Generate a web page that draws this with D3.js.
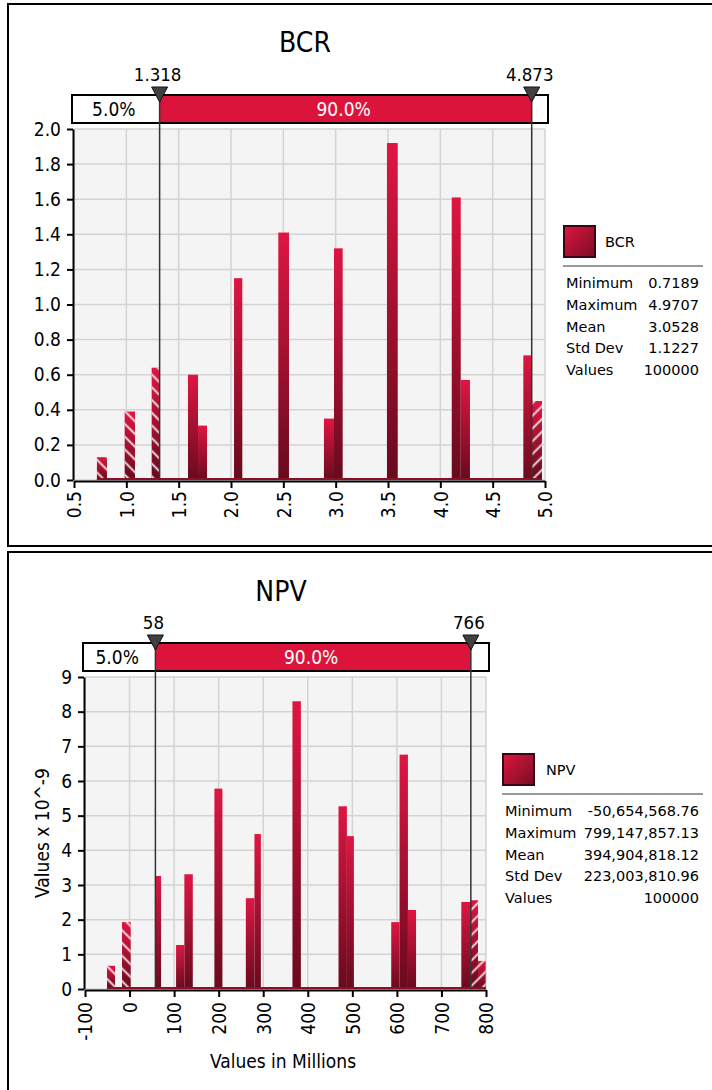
<!DOCTYPE html>
<html>
<head>
<meta charset="utf-8">
<script src="https://cdn.jsdelivr.net/npm/d3@7"></script>
<style>
  html, body { margin: 0; padding: 0; background: #fff; }
  svg { display: block; font-family: "DejaVu Sans Condensed", "DejaVu Sans", sans-serif; }
</style>
</head>
<body>
<svg id="chart" width="712" height="1090"></svg>
<script>
// ---- BCR distribution ----
const bcrBinLo   = [0.719, 0.984, 1.242, 1.589, 1.685, 2.029, 2.452, 2.888, 2.984, 3.490, 4.109, 4.195, 4.793, 4.873];
const bcrBinHi   = [0.815, 1.083, 1.318, 1.685, 1.771, 2.108, 2.554, 2.984, 3.067, 3.593, 4.195, 4.283, 4.873, 4.971];
const bcrDensity = [0.13, 0.39, 0.64, 0.60, 0.31, 1.15, 1.41, 0.35, 1.32, 1.92, 1.61, 0.57, 0.71, 0.45];
const bcrXTicks  = [0.5, 1.0, 1.5, 2.0, 2.5, 3.0, 3.5, 4.0, 4.5, 5.0];
const bcrYTicks  = [0, 0.2, 0.4, 0.6, 0.8, 1.0, 1.2, 1.4, 1.6, 1.8, 2.0];
const bcrMarks   = [1.318, 4.873];
const bcrMarkLabels = ["1.318", "4.873"];
const bcrRange   = [0.7189, 4.9707];
const bcrStats   = ["0.7189", "4.9707", "3.0528", "1.1227", "100000"];

// ---- NPV distribution (values in millions) ----
const npvBinLo   = [-50.65, -16.9, 58, 104.4, 123.0, 190.4, 261.0, 280.3, 365.6, 469.0, 487.8, 587.3, 606.0, 624.8, 744.6, 766, 782.1];
const npvBinHi   = [-32.6, 2.6, 70.7, 123.0, 141.9, 208.4, 280.3, 294.7, 384.5, 487.8, 503.5, 606.0, 624.8, 643.0, 766, 782.1, 799.15];
const npvDensity = [0.67, 1.93, 3.26, 1.27, 3.31, 5.78, 2.62, 4.47, 8.30, 5.27, 4.41, 1.93, 6.76, 2.28, 2.51, 2.56, 0.81];
const npvXTicks  = [-100, 0, 100, 200, 300, 400, 500, 600, 700, 800];
const npvYTicks  = [0, 1, 2, 3, 4, 5, 6, 7, 8, 9];
const npvMarks   = [58, 766];
const npvMarkLabels = ["58", "766"];
const npvRange   = [-50.654568, 799.147857];
const npvStats   = ["-50,654,568.76", "799,147,857.13", "394,904,818.12", "223,003,810.96", "100000"];

const statLabels = ["Minimum", "Maximum", "Mean", "Std Dev", "Values"];
const bandLabels = ["5.0%", "90.0%", "5.0%"];

const svg = d3.select("#chart");
const defs = svg.append("defs");

// vertical shading used by every bar
const barGrad = defs.append("linearGradient").attr("id", "barGrad")
  .attr("x1", 0).attr("y1", 0).attr("x2", 0).attr("y2", 1);
barGrad.append("stop").attr("offset", "0%").attr("stop-color", "#de1642");
barGrad.append("stop").attr("offset", "100%").attr("stop-color", "#680a1d");

// diagonal shading for the legend swatch
const swGrad = defs.append("linearGradient").attr("id", "swatchGrad")
  .attr("x1", 0).attr("y1", 0).attr("x2", 1).attr("y2", 1);
swGrad.append("stop").attr("offset", "0%").attr("stop-color", "#dc1740");
swGrad.append("stop").attr("offset", "100%").attr("stop-color", "#7a0c24");

// white hatching for the tails outside the 90% band
function hatch(id, angle) {
  const p = defs.append("pattern").attr("id", id)
    .attr("patternUnits", "userSpaceOnUse")
    .attr("width", 9).attr("height", 9)
    .attr("patternTransform", `rotate(${angle})`);
  p.append("line").attr("x1", 4.5).attr("y1", 0).attr("x2", 4.5).attr("y2", 9)
    .attr("stroke", "#fff").attr("stroke-width", 1.8).attr("stroke-opacity", 0.92);
}
hatch("hatchLeft", -45);
hatch("hatchRight", 45);

// plain ASCII hyphen for negative tick values
const plainNum = d => String(d);

function drawPanel(o) {
  const g = svg.append("g");

  g.append("rect")
    .attr("x", o.frame[0]).attr("y", o.frame[1])
    .attr("width", o.frame[2]).attr("height", o.frame[3])
    .attr("fill", "#fff").attr("stroke", "#000").attr("stroke-width", 2);

  const x = d3.scaleLinear().domain(o.xDomain).range([o.plot.left, o.plot.right]);
  const y = d3.scaleLinear().domain(o.yDomain).range([o.plot.bottom, o.plot.top]);

  // plot background
  g.append("rect")
    .attr("x", o.plot.left).attr("y", o.plot.top)
    .attr("width", o.plot.right - o.plot.left)
    .attr("height", o.plot.bottom - o.plot.top)
    .attr("fill", "#f4f4f4");

  // grid
  const grid = g.append("g").attr("stroke", "#d3d3d3").attr("stroke-width", 1.5);
  grid.selectAll("line.v").data(o.xTicks).join("line").attr("class", "v")
    .attr("x1", d => x(d)).attr("x2", d => x(d))
    .attr("y1", o.plot.top).attr("y2", o.plot.bottom);
  grid.selectAll("line.h").data(o.yTicks).join("line").attr("class", "h")
    .attr("x1", o.plot.left).attr("x2", o.plot.right)
    .attr("y1", d => y(d)).attr("y2", d => y(d));

  // axes
  const yAxis = g.append("g")
    .attr("transform", `translate(${o.plot.left - 1},0)`)
    .call(d3.axisLeft(y).tickValues(o.yTicks).tickFormat(o.yFormat)
      .tickSize(6).tickSizeOuter(0).tickPadding(6));
  yAxis.select(".domain").attr("stroke", "#000").attr("stroke-width", 2);
  yAxis.selectAll(".tick line").attr("stroke", "#000").attr("stroke-width", 2);
  yAxis.selectAll(".tick text").attr("font-size", 19).attr("fill", "#000")
    .attr("font-family", "DejaVu Sans Condensed, DejaVu Sans, sans-serif");

  const xAxis = g.append("g")
    .attr("transform", `translate(0,${o.plot.bottom + 1})`)
    .call(d3.axisBottom(x).tickValues(o.xTicks).tickFormat(o.xFormat)
      .tickSize(7).tickSizeOuter(0));
  xAxis.select(".domain").attr("stroke", "#000").attr("stroke-width", 2);
  xAxis.selectAll(".tick line").attr("stroke", "#000").attr("stroke-width", 2);
  xAxis.selectAll(".tick text")
    .attr("font-size", 19).attr("fill", "#000")
    .attr("font-family", "DejaVu Sans Condensed, DejaVu Sans, sans-serif")
    .attr("transform", "rotate(-90)")
    .attr("text-anchor", "end")
    .attr("x", -o.xLabelGap).attr("y", 0).attr("dy", "0.36em");

  // bars
  const bins = o.lo.map((d, i) => ({ x0: d, x1: o.hi[i], v: o.dens[i] }));
  const barG = g.append("g");
  barG.selectAll("rect.bar").data(bins).join("rect").attr("class", "bar")
    .attr("x", d => x(d.x0)).attr("width", d => x(d.x1) - x(d.x0))
    .attr("y", d => y(d.v)).attr("height", d => y(0) - y(d.v))
    .attr("fill", "url(#barGrad)");
  barG.selectAll("rect.hatch")
    .data(bins.filter(d => d.x1 <= o.marks[0] + 1e-9 || d.x0 >= o.marks[1] - 1e-9))
    .join("rect").attr("class", "hatch")
    .attr("x", d => x(d.x0)).attr("width", d => x(d.x1) - x(d.x0))
    .attr("y", d => y(d.v)).attr("height", d => y(0) - y(d.v))
    .attr("fill", d => d.x1 <= o.marks[0] + 1e-9 ? "url(#hatchLeft)" : "url(#hatchRight)");

  // empty bins along the data range
  g.append("rect")
    .attr("x", x(o.range[0])).attr("width", x(o.range[1]) - x(o.range[0]))
    .attr("y", y(0) - 2).attr("height", 2)
    .attr("fill", "#8c0f28");

  // percentile band
  const bandL = o.plot.left - 2, bandR = o.plot.right + 3;
  const segs = [
    [bandL, x(o.marks[0])],
    [x(o.marks[0]), x(o.marks[1])],
    [x(o.marks[1]), bandR]
  ];
  g.append("rect")
    .attr("x", bandL).attr("y", o.band.top)
    .attr("width", bandR - bandL).attr("height", o.band.h)
    .attr("fill", "#fff");
  g.append("rect")
    .attr("x", segs[1][0]).attr("y", o.band.top)
    .attr("width", segs[1][1] - segs[1][0]).attr("height", o.band.h)
    .attr("fill", "#dc143c");
  g.append("rect")
    .attr("x", bandL).attr("y", o.band.top)
    .attr("width", bandR - bandL).attr("height", o.band.h)
    .attr("fill", "none").attr("stroke", "#000").attr("stroke-width", 2);
  g.selectAll("text.band").data(segs.map((s, i) => ({ s, t: bandLabels[i], i })))
    .join("text").attr("class", "band")
    .filter(d => d.s[1] - d.s[0] > 45)
    .attr("x", d => (d.s[0] + d.s[1]) / 2 - 2)
    .attr("y", o.band.top + o.band.h / 2).attr("dy", "0.36em")
    .attr("text-anchor", "middle").attr("font-size", 19)
    .attr("fill", d => d.i === 1 ? "#fff" : "#000")
    .text(d => d.t);

  // percentile markers
  const mk = g.append("g");
  mk.selectAll("line").data(o.marks).join("line")
    .attr("x1", d => x(d)).attr("x2", d => x(d))
    .attr("y1", o.band.top).attr("y2", o.plot.bottom)
    .attr("stroke", "#333").attr("stroke-width", 1.5);
  mk.selectAll("path").data(o.marks).join("path")
    .attr("d", d => {
      const cx = x(d), t = o.band.top - 8;
      return `M${cx - 8},${t} L${cx + 8},${t} L${cx},${t + 15} Z`;
    })
    .attr("fill", "#404040").attr("stroke", "#111").attr("stroke-width", 1);
  mk.selectAll("text").data(o.marks).join("text")
    .attr("x", d => x(d) - 2).attr("y", o.band.top - 14)
    .attr("text-anchor", "middle").attr("font-size", 18.5)
    .text((d, i) => o.markLabels[i]);

  // title
  g.append("text")
    .attr("x", o.titlePos[0]).attr("y", o.titlePos[1])
    .attr("text-anchor", "middle").attr("font-size", 28)
    .text(o.title);

  // axis titles
  if (o.xTitle) {
    g.append("text").attr("x", o.xTitle.x).attr("y", o.xTitle.y)
      .attr("text-anchor", "middle").attr("font-size", 19).text(o.xTitle.text);
  }
  if (o.yTitle) {
    g.append("text")
      .attr("transform", `translate(${o.yTitle.x},${o.yTitle.y}) rotate(-90)`)
      .attr("text-anchor", "middle").attr("dy", "0.36em")
      .attr("font-size", 19).text(o.yTitle.text);
  }

  // legend with summary statistics
  const L = o.legend;
  const lg = g.append("g").attr("font-family", "DejaVu Sans, sans-serif");
  lg.append("rect").attr("x", L.x).attr("y", L.y).attr("width", 31).attr("height", 31)
    .attr("fill", "url(#swatchGrad)").attr("stroke", "#3a0710").attr("stroke-width", 2);
  lg.append("text").attr("x", L.x + L.labelDx).attr("y", L.y + 16).attr("dy", "0.36em")
    .attr("font-size", 14.5).text(o.title);
  lg.append("line").attr("x1", L.x - 1).attr("x2", 703)
    .attr("y1", L.y + 40).attr("y2", L.y + 40)
    .attr("stroke", "#999").attr("stroke-width", 2);
  const rows = lg.selectAll("g.row").data(statLabels).join("g").attr("class", "row")
    .attr("transform", (d, i) => `translate(0,${L.y + 57 + i * 21.7})`);
  rows.append("text").attr("x", L.x + 2).attr("dy", "0.36em")
    .attr("font-size", 14.5).text(d => d);
  rows.append("text").attr("x", 699).attr("dy", "0.36em")
    .attr("text-anchor", "end").attr("font-size", 14.5)
    .text((d, i) => o.stats[i]);
}

drawPanel({
  frame: [8, 4, 720, 542],
  plot: { left: 74, right: 545, top: 129, bottom: 480 },
  band: { top: 95, h: 28 },
  xDomain: [0.5, 5.0], yDomain: [0, 2.0],
  xTicks: bcrXTicks, yTicks: bcrYTicks,
  xFormat: d3.format(".1f"), yFormat: d3.format(".1f"),
  xLabelGap: 10,
  lo: bcrBinLo, hi: bcrBinHi, dens: bcrDensity,
  range: bcrRange, marks: bcrMarks, markLabels: bcrMarkLabels,
  title: "BCR", titlePos: [305, 52],
  legend: { x: 564, y: 226, labelDx: 41 },
  stats: bcrStats
});

drawPanel({
  frame: [8, 552, 720, 560],
  plot: { left: 85, right: 486, top: 677, bottom: 989 },
  band: { top: 643, h: 28 },
  xDomain: [-100, 800], yDomain: [0, 9],
  xTicks: npvXTicks, yTicks: npvYTicks,
  xFormat: plainNum, yFormat: plainNum,
  xLabelGap: 12,
  lo: npvBinLo, hi: npvBinHi, dens: npvDensity,
  range: npvRange, marks: npvMarks, markLabels: npvMarkLabels,
  title: "NPV", titlePos: [281, 601],
  xTitle: { x: 283, y: 1068, text: "Values in Millions" },
  yTitle: { x: 42, y: 833, text: "Values x 10^-9" },
  legend: { x: 503, y: 754, labelDx: 43 },
  stats: npvStats
});
</script>
</body>
</html>
